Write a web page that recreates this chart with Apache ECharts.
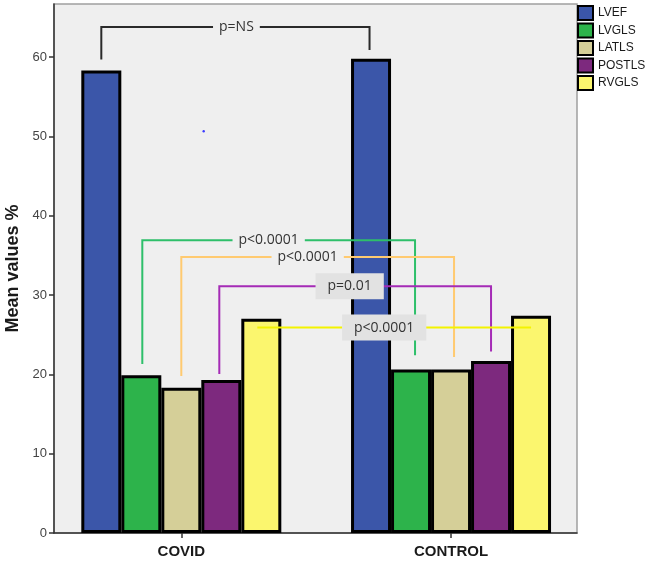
<!DOCTYPE html>
<html>
<head>
<meta charset="utf-8">
<script src="https://cdn.jsdelivr.net/npm/echarts@6/dist/echarts.min.js"></script>
<style>
html,body{margin:0;padding:0;background:#fff;}
#chart{width:648px;height:562px;}
</style>
</head>
<body>
<div id="chart"></div>
<script>
// ---- data ----
const categories = ['COVID', 'CONTROL'];
const seriesNames = ['LVEF', 'LVGLS', 'LATLS', 'POSTLS', 'RVGLS'];
const LVEF   = [58.3, 59.8];
const LVGLS  = [19.9, 20.6];
const LATLS  = [18.3, 20.6];
const POSTLS = [19.3, 21.7];
const RVGLS  = [27.0, 27.4];
const yTicks = [0, 10, 20, 30, 40, 50, 60];
// significance annotations (values in axis units)
const annLabels = ['p=NS', 'p<0.0001', 'p<0.0001', 'p=0.01', 'p<0.0001'];
const annTop    = [63.8, 36.9, 34.8, 31.1, 25.9];
const annLeftEnd  = [59.7, 21.3, 19.8, 20.05, null];
const annRightEnd = [60.9, 22.4, 22.2, 22.9, null];

const colors = ['#3b56a9', '#2db34b', '#d5cf98', '#7d297e', '#fbf66e'];
const annColors = ['#2a2a2a', '#2ebf6a', '#ffca70', '#a52bb6', '#f3f300'];
const annBox = [false, false, false, true, true];
const annDx = [1, -10, -10, -5.5, -10];
const annEndDx = [[0, -1.5], [1, 4], [0, 3], [-2, 0], [-4, 0]];

const seriesData = [LVEF, LVGLS, LATLS, POSTLS, RVGLS];
const BAR_W = 40;

const chart = echarts.init(document.getElementById('chart'));
const option = {
  animation: false,
  backgroundColor: '#ffffff',
  grid: {
    left: 54, top: 4, right: 71, bottom: 29,
    outerBoundsMode: 'none', containLabel: false,
    show: true, backgroundColor: '#efefef', borderColor: '#a0a0a0', borderWidth: 1.5
  },
  legend: {
    orient: 'vertical', left: 577, top: 5, padding: 0,
    itemWidth: 15, itemHeight: 14, itemGap: 1.5,
    icon: 'rect',
    textStyle: { fontFamily: 'Liberation Sans', fontSize: 12, color: '#1a1a1a', lineHeight: 14 },
    data: seriesNames
  },
  xAxis: {
    type: 'value', min: -0.472, max: 1.467,
    splitLine: { show: false },
    axisLine: { show: true, onZero: false, lineStyle: { color: '#333', width: 1.5 } },
    axisTick: { show: true, customValues: [0, 1], length: 5, lineStyle: { color: '#333', width: 1.5 } },
    axisLabel: {
      customValues: [0, 1], margin: 11,
      formatter: v => categories[Math.round(v)] || '',
      fontFamily: 'Liberation Sans', fontWeight: 'bold', fontSize: 15, color: '#1a1a1a'
    }
  },
  yAxis: {
    type: 'value', min: 0, max: 66.7, interval: 10,
    name: 'Mean values %', nameLocation: 'middle', nameGap: 25,
    nameTextStyle: { fontFamily: 'Liberation Sans', fontWeight: 'bold', fontSize: 18, color: '#1a1a1a' },
    splitLine: { show: false },
    axisLine: { show: true, onZero: false, lineStyle: { color: '#333', width: 1.5 } },
    axisTick: { show: true, customValues: yTicks, length: 5, lineStyle: { color: '#333', width: 1.5 } },
    axisLabel: { customValues: yTicks, margin: 7, fontFamily: 'Liberation Sans', fontSize: 13, color: '#444' }
  },
  series: seriesNames.map((name, i) => ({
    name: name, type: 'bar',
    barWidth: BAR_W, barGap: '0%',
    itemStyle: { color: colors[i], borderColor: '#000', borderWidth: 3 },
    data: seriesData[i].map((v, g) => [g, v])
  }))
};
chart.setOption(option);

function px(x, y) { return chart.convertToPixel({ gridIndex: 0 }, [x, y]); }
function barX(group, idx) { return px(group, 0)[0] + (idx - 2) * BAR_W; }

const lines = [], labels = [];
annLabels.forEach((txt, k) => {
  const idx = k; // bracket k links series k in both groups
  const xl = barX(0, idx) + annEndDx[k][0];
  const xr = barX(1, idx) + annEndDx[k][1];
  const yt = px(0, annTop[k])[1];
  let pts;
  if (annLeftEnd[k] === null) {
    pts = [[xl, yt], [xr, yt]];
  } else {
    pts = [[xl, px(0, annLeftEnd[k])[1]], [xl, yt], [xr, yt], [xr, px(0, annRightEnd[k])[1]]];
  }
  lines.push({
    type: 'polyline', z: 100,
    shape: { points: pts },
    style: { stroke: annColors[k], lineWidth: 2, fill: null }
  });
  labels.push({
    type: 'text', z: 110,
    x: (xl + xr) / 2 + annDx[k], y: yt,
    style: {
      text: txt, align: 'center', verticalAlign: 'middle',
      font: '14px "Open Sans"', fill: '#333',
      backgroundColor: annBox[k] ? '#e2e2e2' : '#efefef',
      padding: annBox[k] ? [6, 12, 6, 12] : [1, 6, 1, 6]
    }
  });
});
// small stray dot present in the original figure
const dot = { type: 'circle', z: 100, shape: { cx: 203.7, cy: 131.3, r: 1.2 }, style: { fill: '#3a3aff' } };
chart.setOption({ graphic: lines.concat(labels).concat([dot]) });
</script>
</body>
</html>
